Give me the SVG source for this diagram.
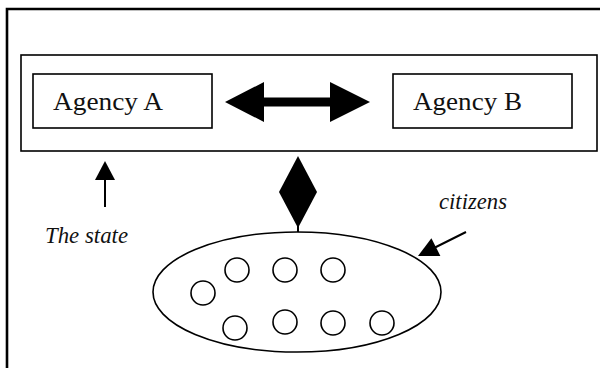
<svg xmlns="http://www.w3.org/2000/svg" width="600" height="368" viewBox="0 0 600 368">
  <style>
    .box { fill: #ffffff; stroke: #000000; stroke-width: 1.6; }
    .frame { fill: none; stroke: #000000; stroke-width: 2.6; }
    .label { font-family: 'Liberation Serif', 'Times New Roman', serif; font-size: 26px; fill: #111111; }
    .note { font-family: 'Liberation Serif', 'Times New Roman', serif; font-style: italic; font-size: 24px; fill: #111111; }
    .solid { fill: #000000; stroke: none; }
    .thin { fill: none; stroke: #000000; stroke-width: 2; }
    .person { fill: #ffffff; stroke: #000000; stroke-width: 1.6; }
  </style>

  <rect width="600" height="368" fill="#ffffff"/>

  <!-- open outer frame: left and top edges -->
  <path class="frame" d="M7,368 V9 H600"/>

  <g id="state">
    <rect class="box" x="21" y="55" width="576" height="96"/>
  </g>

  <g id="agency-a">
    <rect class="box" x="33" y="74" width="179" height="54"/>
    <text class="label" x="53" y="110" textLength="110" lengthAdjust="spacingAndGlyphs">Agency A</text>
  </g>

  <g id="agency-b">
    <rect class="box" x="393" y="74" width="179" height="54"/>
    <text class="label" x="413" y="110" textLength="109" lengthAdjust="spacingAndGlyphs">Agency B</text>
  </g>

  <g id="citizens">
    <ellipse class="person" cx="297" cy="292" rx="144" ry="60"/>
    <circle class="person" cx="203" cy="293" r="12"/>
    <circle class="person" cx="237" cy="270" r="12"/>
    <circle class="person" cx="285" cy="270" r="12"/>
    <circle class="person" cx="333" cy="270" r="12"/>
    <circle class="person" cx="235" cy="328" r="12"/>
    <circle class="person" cx="285" cy="322" r="12"/>
    <circle class="person" cx="333" cy="323" r="12"/>
    <circle class="person" cx="382" cy="323" r="12"/>
  </g>

  <g id="label-state">
    <text class="note" x="45" y="243" textLength="83" lengthAdjust="spacingAndGlyphs">The state</text>
  </g>

  <g id="label-citizens">
    <text class="note" x="439" y="209" textLength="68" lengthAdjust="spacingAndGlyphs">citizens</text>
  </g>

  <g id="connectors">
    <!-- agency A <-> agency B -->
    <polygon class="solid" points="225,102 264,82 264,97.5 330,97.5 330,82 370,102 330,122 330,106.5 264,106.5 264,122"/>
    <!-- state <-> citizens -->
    <polygon class="solid" points="298,156 317,192 298,228 279,192"/>
    <line class="thin" x1="298" y1="226" x2="298" y2="232" stroke-width="1.5"/>
    <!-- pointer to the state -->
    <line class="thin" x1="105" y1="178" x2="105" y2="207"/>
    <polygon class="solid" points="105,161 115,180 95,180"/>
    <!-- pointer to citizens -->
    <line class="thin" x1="466" y1="232" x2="434" y2="248"/>
    <polygon class="solid" points="418,256 431.4,238.2 440.4,256"/>
  </g>
</svg>
